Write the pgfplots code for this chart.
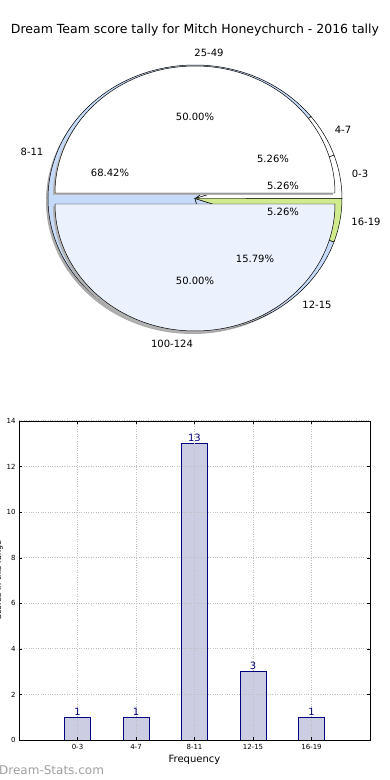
\documentclass[border=0pt]{standalone}
\usepackage{pgfplots}
\pgfplotsset{compat=1.18}
\usepackage{fontspec}
\setmainfont{DejaVu Sans}
\definecolor{pblue}{HTML}{C6DAFA}
\definecolor{pblueb}{HTML}{EBF1FD}
\definecolor{pgreen}{HTML}{D0EA8E}
\definecolor{barfill}{HTML}{CCCCE2}
\definecolor{navy}{HTML}{00007F}
\begin{document}
\begin{tikzpicture}
\useasboundingbox (0,0) rectangle (390bp,780bp);
\begin{axis}[at={(0,0)},anchor=south west,width=390bp,height=780bp,scale only axis,
  xmin=0,xmax=390,ymin=0,ymax=780,hide axis,clip=false]
\node[font=\fontsize{12.5bp}{14bp}\selectfont] at (axis cs:195,750) {Dream Team score tally for Mitch Honeychurch - 2016 tally};
% outer pie shadow
\fill[gray!65] (axis cs:192.5,579) ellipse [x radius=146.5bp, y radius=133bp];
% outer pie: counts per score band
\gdef\s{0}
\foreach \v/\col in {1/white,1/white,13/pblue,3/pblue,1/pgreen} {
  \pgfmathsetmacro\e{\s+\v*360/19}
  \pgfmathsetmacro\xs{195+147*cos(\s)}
  \pgfmathsetmacro\ys{581.5+133.5*sin(\s)}
  \edef\tmp{\noexpand\filldraw[fill=\col,draw=black,line width=0.5pt] (axis cs:195,581.5) -- (axis cs:\xs,\ys) arc[start angle=\s,end angle=\e,x radius=147bp,y radius=133.5bp] -- cycle;}
  \tmp
  \xdef\s{\e}
}
% inner pie: two halves, exploded
\gdef\s{0}
\foreach \v/\col in {1/white,1/pblueb} {
  \pgfmathsetmacro\e{\s+\v*360/2}
  \pgfmathsetmacro\m{(\s+\e)/2}
  \pgfmathsetmacro\cx{195+5.5*cos(\m)}
  \pgfmathsetmacro\cy{581.5+5.5*sin(\m)}
  \pgfmathsetmacro\xs{\cx+140*cos(\s)}
  \pgfmathsetmacro\ys{\cy+127*sin(\s)}
  \pgfmathsetmacro\cxx{\cx-2}
  \pgfmathsetmacro\cyy{\cy-2}
  \pgfmathsetmacro\xss{\xs-2}
  \pgfmathsetmacro\yss{\ys-2}
  \edef\tmp{\noexpand\fill[gray!60] (axis cs:\cxx,\cyy) -- (axis cs:\xss,\yss) arc[start angle=\s,end angle=\e,x radius=140bp,y radius=127bp] -- cycle;
  \noexpand\filldraw[fill=\col,draw=black,line width=0.5pt] (axis cs:\cx,\cy) -- (axis cs:\xs,\ys) arc[start angle=\s,end angle=\e,x radius=140bp,y radius=127bp] -- cycle;}
  \tmp
  \xdef\s{\e}
}
\begin{scope}[font=\fontsize{10bp}{12bp}\selectfont]
\node at (axis cs:209,727) {25-49};
\node at (axis cs:172,436) {100-124};
\node at (axis cs:32,628) {8-11};
\node at (axis cs:343,650) {4-7};
\node at (axis cs:360,606) {0-3};
\node at (axis cs:366,558) {16-19};
\node at (axis cs:317,475) {12-15};
\node at (axis cs:195,663) {50.00\%};
\node at (axis cs:195,499) {50.00\%};
\node at (axis cs:110,607) {68.42\%};
\node at (axis cs:273,621) {5.26\%};
\node at (axis cs:283,594) {5.26\%};
\node at (axis cs:283,568) {5.26\%};
\node at (axis cs:255,521) {15.79\%};
\end{scope}
\node[anchor=west,text=gray!75,font=\fontsize{12bp}{14bp}\selectfont,inner sep=0pt] at (axis cs:-1,10) {Dream-Stats.com};
\node[rotate=90,font=\fontsize{8bp}{10bp}\selectfont] at (axis cs:-1,200) {Scores in this range};
\end{axis}
\begin{axis}[at={(19bp,40bp)},anchor=south west,width=351bp,height=319bp,scale only axis,
  xmin=-1,xmax=5,ymin=0,ymax=14,
  xtick={0,...,4}, xticklabels={0-3,4-7,8-11,12-15,16-19},
  ytick={0,2,...,14},
  grid=major, grid style={dotted, gray!50, line width=1pt},
  axis on top,
  tick align=inside, major tick length=3bp, tick style={black},
  ticklabel style={font=\fontsize{7bp}{8bp}\selectfont},
  /pgf/number format/assume math mode=true,
  xticklabel style={yshift=-1bp},
  axis line style={black, line width=0.8pt},
  xlabel={Frequency},
  xlabel style={font=\fontsize{10bp}{12bp}\selectfont, at={(axis description cs:0.5,0)}, anchor=center, yshift=-20bp}]
\addplot[ybar, bar width=26bp, fill=barfill, draw=navy, line width=0.8pt,
  nodes near coords, every node near coord/.append style={font=\fontsize{10bp}{12bp}\selectfont, text=navy, inner sep=1.5bp}]
  coordinates {(0,1) (1,1) (2,13) (3,3) (4,1)};
\end{axis}
\end{tikzpicture}
\end{document}
